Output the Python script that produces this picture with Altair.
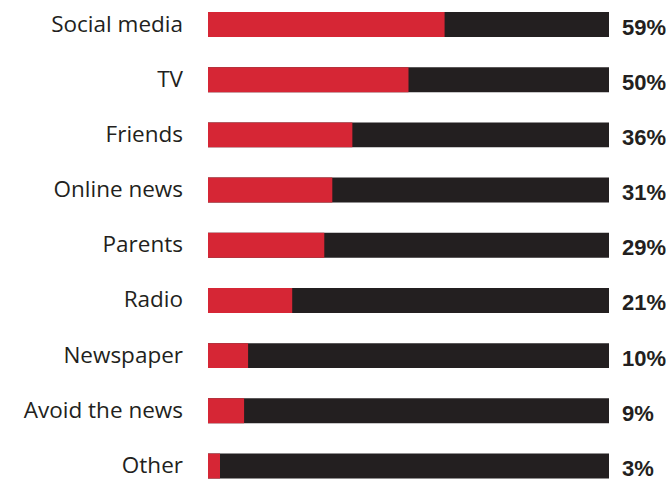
import altair as alt
import pandas as pd

categories = ["Social media", "TV", "Friends", "Online news", "Parents", "Radio",
              "Newspaper", "Avoid the news", "Other"]
values = [59, 50, 36, 31, 29, 21, 10, 9, 3]
labels = ["59%", "50%", "36%", "31%", "29%", "21%", "10%", "9%", "3%"]

df = pd.DataFrame({
    "cat": categories,
    "val": values,
    "label": labels,
    "idx": list(range(len(categories))),
})
df["lo"] = df["idx"] - 0.226
df["hi"] = df["idx"] + 0.226
df["full"] = 100
df["zero"] = 0

RED = "#D62635"
BLACK = "#231F20"

yscale = alt.Scale(domain=[-0.444, 8.235], reverse=True, nice=False, zero=False)
xscale = alt.Scale(domain=[0, 100], nice=False)

base = alt.Chart(df)

bg = base.mark_bar(color=BLACK).encode(
    x=alt.X("zero:Q", scale=xscale, axis=None),
    x2="full:Q",
    y=alt.Y("lo:Q", scale=yscale, axis=None),
    y2="hi:Q",
)
fg = base.mark_bar(color=RED).encode(
    x=alt.X("zero:Q", scale=xscale, axis=None),
    x2="val:Q",
    y=alt.Y("lo:Q", scale=yscale, axis=None),
    y2="hi:Q",
)
cat_text = base.mark_text(
    align="right", baseline="middle", font="Open Sans", fontSize=22.5,
    color=BLACK, dx=-25,
).encode(
    x=alt.value(0),
    y=alt.Y("idx:Q", scale=yscale, axis=None),
    text="cat:N",
)
pct_text = base.mark_text(
    align="left", baseline="middle", font="Liberation Sans",
    fontWeight="bold", fontSize=22, color=BLACK, dx=13, dy=3,
).encode(
    x=alt.value(401),
    y=alt.Y("idx:Q", scale=yscale, axis=None),
    text="label:N",
)

chart = alt.layer(bg, fg, cat_text, pct_text).properties(
    width=401, height=479,
    autosize=alt.AutoSizeParams(type="none"),
    padding={"left": 208, "right": 57, "top": 0, "bottom": 0},
).configure(background="white").configure_view(stroke=None)

chart.save("out.html", embed_options={"renderer": "svg", "actions": False})
